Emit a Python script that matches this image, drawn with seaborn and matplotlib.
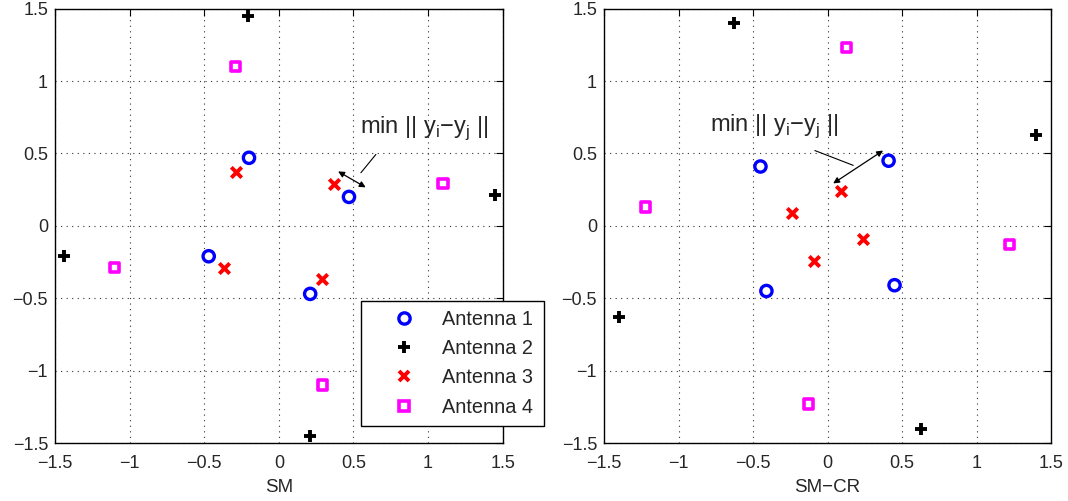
import numpy as np
import pandas as pd
import matplotlib
matplotlib.use("Agg")
import matplotlib.pyplot as plt
from matplotlib.lines import Line2D
import seaborn as sns

# ---------------- data ----------------
antennas = ["Antenna 1", "Antenna 2", "Antenna 3", "Antenna 4"]

# SM constellation (left panel)
sm_a1_x = [-0.20, 0.47, -0.47, 0.21]
sm_a1_y = [0.47, 0.20, -0.21, -0.47]
sm_a2_x = [-0.21, 1.45, -1.44, 0.21]
sm_a2_y = [1.45, 0.21, -0.21, -1.45]
sm_a3_x = [-0.29, 0.37, -0.37, 0.29]
sm_a3_y = [0.37, 0.29, -0.29, -0.37]
sm_a4_x = [-0.29, 1.10, -1.10, 0.29]
sm_a4_y = [1.10, 0.29, -0.29, -1.10]

# SM-CR constellation (right panel)
cr_a1_x = [-0.45, 0.41, -0.41, 0.45]
cr_a1_y = [0.41, 0.45, -0.45, -0.41]
cr_a2_x = [-0.63, 1.40, -1.40, 0.63]
cr_a2_y = [1.40, 0.63, -0.63, -1.40]
cr_a3_x = [-0.24, 0.09, 0.24, -0.09]
cr_a3_y = [0.09, 0.24, -0.09, -0.24]
cr_a4_x = [0.13, -1.22, 1.22, -0.13]
cr_a4_y = [1.23, 0.13, -0.13, -1.23]

ticks = [-1.5, -1, -0.5, 0, 0.5, 1, 1.5]
tick_labels = ["\u22121.5", "\u22121", "\u22120.5", "0", "0.5", "1", "1.5"]
xlabels = ["SM", "SM\u2212CR"]
annot_text = r"min || y$_\mathregular{i}$" + "\u2212" + r"y$_\mathregular{j}$ ||"

# ---------------- style ----------------
sns.set_style("white")
plt.rcParams["font.family"] = ["Liberation Sans", "DejaVu Sans"]
plt.rcParams["mathtext.fontset"] = "custom"
plt.rcParams["mathtext.rm"] = "Liberation Sans"
plt.rcParams["axes.unicode_minus"] = True

styles = [
    dict(marker="o", color="#0000ff", s=66, lw=2.4, filled=False),
    dict(marker="+", color="#000000", s=72, lw=2.8, filled=None),
    dict(marker="x", color="#ff0000", s=56, lw=2.8, filled=None),
    dict(marker="s", color="#ff00ff", s=44, lw=2.6, filled=False),
]

W, H = 1068, 501
fig = plt.figure(figsize=(W / 100, H / 100), dpi=100)
ax1 = fig.add_axes([55 / W, (H - 443) / H, 447.7 / W, 434.3 / H])
ax2 = fig.add_axes([604 / W, (H - 443) / H, 447 / W, 434.3 / H])

panels = [
    (ax1, [(sm_a1_x, sm_a1_y), (sm_a2_x, sm_a2_y), (sm_a3_x, sm_a3_y), (sm_a4_x, sm_a4_y)]),
    (ax2, [(cr_a1_x, cr_a1_y), (cr_a2_x, cr_a2_y), (cr_a3_x, cr_a3_y), (cr_a4_x, cr_a4_y)]),
]

for (ax, series), xl in zip(panels, xlabels):
    for (xs, ys), st in zip(series, styles):
        if st["filled"] is False:
            sns.scatterplot(x=xs, y=ys, ax=ax, marker=st["marker"], s=st["s"],
                            facecolor="none", edgecolor=st["color"], linewidth=st["lw"],
                            zorder=3, legend=False)
        else:
            sns.scatterplot(x=xs, y=ys, ax=ax, marker=st["marker"], s=st["s"],
                            color=st["color"], linewidth=st["lw"],
                            zorder=3, legend=False)
    ax.set_xlim(-1.5, 1.5)
    ax.set_ylim(-1.5, 1.5)
    ax.set_xticks(ticks)
    ax.set_yticks(ticks)
    ax.set_xticklabels(tick_labels)
    ax.set_yticklabels(tick_labels)
    ax.tick_params(direction="in", length=5, width=0.8, labelsize=13,
                   top=True, right=True, color="black")
    ax.tick_params(axis="x", pad=8.5)
    ax.tick_params(axis="y", pad=5)
    ax.grid(True, linestyle=(0, (1, 4)), color="#333333", linewidth=0.8)
    for sp in ax.spines.values():
        sp.set_visible(True)
        sp.set_color("black")
        sp.set_linewidth(1.0)
    ax.set_xlabel(xl, fontsize=13.5, labelpad=5)

# ---------------- annotations ----------------
ax1.text(0.545, 0.64, annot_text, fontsize=17, ha="left", va="baseline", zorder=5)
ax1.annotate("", xy=(0.538, 0.352), xytext=(0.662, 0.508),
             arrowprops=dict(arrowstyle="-", color="black", lw=0.8))
ax1.annotate("", xy=(0.397, 0.376), xytext=(0.582, 0.266),
             arrowprops=dict(arrowstyle="<|-|>", color="black", lw=0.9,
                             mutation_scale=9, shrinkA=0, shrinkB=0))

ax2.text(-0.787, 0.658, annot_text, fontsize=17, ha="left", va="baseline", zorder=5)
ax2.annotate("", xy=(0.19, 0.411), xytext=(-0.102, 0.527),
             arrowprops=dict(arrowstyle="-", color="black", lw=0.8))
ax2.annotate("", xy=(0.038, 0.293), xytext=(0.373, 0.52),
             arrowprops=dict(arrowstyle="<|-|>", color="black", lw=0.9,
                             mutation_scale=9, shrinkA=0, shrinkB=0))

# ---------------- legend ----------------
handles = []
for name, st in zip(antennas, styles):
    ms = np.sqrt(st["s"])
    if st["filled"] is False:
        h = Line2D([], [], linestyle="none", marker=st["marker"], markersize=ms,
                   markerfacecolor="none", markeredgecolor=st["color"],
                   markeredgewidth=st["lw"])
    else:
        h = Line2D([], [], linestyle="none", marker=st["marker"], markersize=ms,
                   color=st["color"], markeredgewidth=st["lw"])
    handles.append(h)

leg = ax1.legend(handles, antennas, loc="lower left",
                 bbox_to_anchor=(0.683, 0.04, 0.41, 0.29), mode="expand",
                 borderaxespad=0, fontsize=14.3, frameon=True, fancybox=False,
                 labelspacing=0.52, handletextpad=0.15, handlelength=3.5,
                 borderpad=0.45)
leg.get_frame().set_edgecolor("black")
leg.get_frame().set_linewidth(1.0)
leg.get_frame().set_alpha(1)
leg.set_zorder(10)

fig.savefig("out.png", dpi=100)
